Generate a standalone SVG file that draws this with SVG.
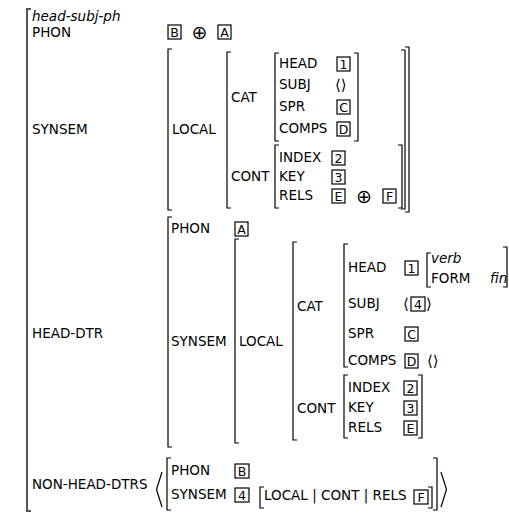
<svg xmlns="http://www.w3.org/2000/svg" width="509" height="513" viewBox="0 0 509 513">
<style>
text{font-family:"DejaVu Sans","Liberation Sans",sans-serif;font-size:13.5px;fill:#000}
.i{font-style:italic}
.op{font-size:19px;text-anchor:middle}
.ang{font-size:15px}
.br{fill:none;stroke:#000;stroke-width:1.2}
.outer{fill:none;stroke:#555;stroke-width:2}
.tag rect{fill:none;stroke:#000;stroke-width:1.2}
.tag text{font-size:12.5px;text-anchor:middle}
</style>
<rect width="509" height="513" fill="#fff"/>

<g id="outer-avm">
<path class="outer" d="M31 9H27V511H31"/>
<text class="i" x="32" y="20.5">head-subj-ph</text>
<text x="32" y="36.5">PHON</text>
<text x="32" y="134">SYNSEM</text>
<text x="32" y="338">HEAD-DTR</text>
<text x="32" y="489">NON-HEAD-DTRS</text>
</g>

<g id="phon-value">
<g class="tag"><rect x="168" y="25" width="13" height="14"/><text x="174.5" y="36.5">B</text></g>
<text class="op" x="199.5" y="38.5">⊕</text>
<g class="tag"><rect x="218" y="25" width="13" height="14"/><text x="224.5" y="36.5">A</text></g>
</g>

<g id="synsem-top">
<path class="br" d="M172 49H168V210H172"/>
<path class="br" d="M405 47H409V212H405"/>
<text x="172" y="134">LOCAL</text>
<path class="br" d="M231 52H227V208H231"/>
<path class="br" d="M401 50H405V209H401"/>
<text x="231" y="102">CAT</text>
<text x="231" y="181">CONT</text>
<g id="cat-top">
<path class="br" d="M279 53H275V141H279"/>
<path class="br" d="M354 53H358V141H354"/>
<text x="279" y="68">HEAD</text>
<text x="279" y="89">SUBJ</text>
<text x="279" y="111">SPR</text>
<text x="279" y="133">COMPS</text>
<g class="tag"><rect x="337" y="57" width="13" height="14"/><text x="343.5" y="68.5">1</text></g>
<text class="ang" x="335" y="89.5">⟨⟩</text>
<g class="tag"><rect x="337" y="100" width="13" height="14"/><text x="343.5" y="111.5">C</text></g>
<g class="tag"><rect x="337" y="122" width="13" height="14"/><text x="343.5" y="133.5">D</text></g>
</g>
<g id="cont-top">
<path class="br" d="M279 145H275V208H279"/>
<path class="br" d="M398 145H402V208H398"/>
<text x="279" y="162">INDEX</text>
<text x="279" y="181">KEY</text>
<text x="279" y="200">RELS</text>
<g class="tag"><rect x="332" y="151" width="13" height="14"/><text x="338.5" y="162.5">2</text></g>
<g class="tag"><rect x="332" y="170" width="13" height="14"/><text x="338.5" y="181.5">3</text></g>
<g class="tag"><rect x="332" y="189" width="13" height="14"/><text x="338.5" y="200.5">E</text></g>
<text class="op" x="364" y="202.5">⊕</text>
<g class="tag"><rect x="383" y="189" width="13" height="14"/><text x="389.5" y="200.5">F</text></g>
</g>
</g>

<g id="head-dtr">
<path class="br" d="M172 217H168V447H172"/>
<text x="171" y="233">PHON</text>
<g class="tag"><rect x="235" y="222" width="13" height="14"/><text x="241.5" y="233.5">A</text></g>
<text x="171" y="346">SYNSEM</text>
<path class="br" d="M239 239H235V443H239"/>
<text x="239" y="346">LOCAL</text>
<path class="br" d="M297 242H293V440H297"/>
<text x="297" y="311">CAT</text>
<text x="297" y="413">CONT</text>
<g id="cat-low">
<path class="br" d="M348 244H344V367H348"/>
<text x="348" y="272">HEAD</text>
<g class="tag"><rect x="405" y="261" width="13" height="14"/><text x="411.5" y="272.5">1</text></g>
<path class="br" d="M431 253H427V287H431"/>
<text class="i" x="431" y="263">verb</text>
<text x="431" y="283">FORM</text>
<text class="i" x="490" y="283">fin</text>
<path class="br" d="M503 247H507V287H503"/>
<text x="348" y="308">SUBJ</text>
<text class="ang" x="403" y="308.5">⟨</text>
<g class="tag"><rect x="411" y="297" width="14" height="14"/><text x="418" y="308.5">4</text></g>
<text class="ang" x="426" y="308.5">⟩</text>
<text x="348" y="338">SPR</text>
<g class="tag"><rect x="405" y="327" width="13" height="14"/><text x="411.5" y="338.5">C</text></g>
<text x="348" y="365">COMPS</text>
<g class="tag"><rect x="405" y="354" width="13" height="14"/><text x="411.5" y="365.5">D</text></g>
<text class="ang" x="427" y="365.5">⟨⟩</text>
</g>
<g id="cont-low">
<path class="br" d="M348 375H344V438H348"/>
<path class="br" d="M418 375H422V438H418"/>
<text x="348" y="392">INDEX</text>
<text x="348" y="412">KEY</text>
<text x="348" y="432">RELS</text>
<g class="tag"><rect x="404" y="381" width="13" height="14"/><text x="410.5" y="392.5">2</text></g>
<g class="tag"><rect x="404" y="401" width="13" height="14"/><text x="410.5" y="412.5">3</text></g>
<g class="tag"><rect x="404" y="421" width="13" height="14"/><text x="410.5" y="432.5">E</text></g>
</g>
</g>

<g id="non-head-dtrs">
<path class="br" d="M162 472L156.5 489.5L162 507"/>
<path class="br" d="M171 458H167V510H171"/>
<text x="171" y="475">PHON</text>
<g class="tag"><rect x="235" y="464" width="14" height="14"/><text x="242" y="475.5">B</text></g>
<text x="171" y="499">SYNSEM</text>
<g class="tag"><rect x="235" y="488" width="14" height="14"/><text x="242" y="499.5">4</text></g>
<path class="br" d="M264 487H260V508H264"/>
<text x="264" y="500">LOCAL | CONT | RELS</text>
<g class="tag"><rect x="414" y="490" width="14" height="14"/><text x="421" y="501.5">F</text></g>
<path class="br" d="M428 487H432V508H428"/>
<path class="br" d="M433 458H437V510H433"/>
<path class="br" d="M441 472L446.5 489.5L441 507"/>
</g>
</svg>
